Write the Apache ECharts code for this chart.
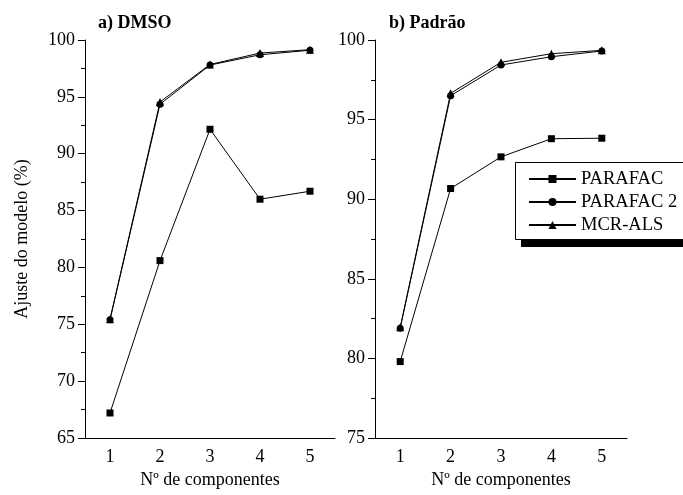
<!DOCTYPE html>
<html>
<head>
<meta charset="utf-8">
<script src="https://cdn.jsdelivr.net/npm/echarts@6/dist/echarts.min.js"></script>
<style>
  html, body { margin: 0; padding: 0; background: #fff; }
  #chart { width: 683px; height: 495px; }
</style>
</head>
<body>
<div id="chart"></div>
<script>
const components = ['1', '2', '3', '4', '5']

// a) DMSO
const dmsoParafac = [67.2, 80.6, 92.15, 86.0, 86.7]
const dmsoParafac2 = [75.4, 94.35, 97.8, 98.7, 99.1]
const dmsoMcr = [75.45, 94.55, 97.85, 98.85, 99.15]

// b) Padrão
const padraoParafac = [79.8, 90.67, 92.66, 93.8, 93.83]
const padraoParafac2 = [81.9, 96.5, 98.43, 98.95, 99.31]
const padraoMcr = [81.95, 96.65, 98.6, 99.14, 99.35]

const font = 'Liberation Serif'

const chart = echarts.init(document.getElementById('chart'))

const xAxisBase = {
  type: 'category',
  data: components,
  boundaryGap: true,
  name: 'Nº de componentes',
  nameLocation: 'middle',
  nameGap: 23,
  nameTextStyle: { fontFamily: font, fontSize: 18, color: '#000' },
  axisLine: { lineStyle: { color: '#000', width: 1 } },
  axisTick: { alignWithLabel: true, length: 7, lineStyle: { color: '#000' } },
  axisLabel: { fontFamily: font, fontSize: 18, color: '#000', margin: 10 },
  splitLine: { show: false }
}

const yAxisBase = {
  type: 'value',
  interval: 5,
  axisLine: { show: true, lineStyle: { color: '#000', width: 1 } },
  axisTick: { show: true, length: 7, lineStyle: { color: '#000' } },
  minorTick: { show: true, splitNumber: 2, length: 4, lineStyle: { color: '#000' } },
  axisLabel: { fontFamily: font, fontSize: 18, color: '#000', margin: 10 },
  splitLine: { show: false }
}

const lineSeries = (name, data, symbol, size, idx) => ({
  name,
  type: 'line',
  data,
  xAxisIndex: idx,
  yAxisIndex: idx,
  symbol,
  symbolSize: size,
  lineStyle: { color: '#000', width: 1 },
  itemStyle: { color: '#000' },
  animation: false
})

const option = {
  backgroundColor: '#fff',
  animation: false,
  title: [
    { text: 'a) DMSO', left: 93, top: 9, textStyle: { fontFamily: font, fontSize: 18, fontWeight: 'bold', color: '#000' } },
    { text: 'b) Padrão', left: 384, top: 9, textStyle: { fontFamily: font, fontSize: 18, fontWeight: 'bold', color: '#000' } }
  ],
  graphic: [
    // legend frame with solid drop shadow
    { type: 'rect', z: 90, shape: { x: 521, y: 240, width: 200, height: 7 }, style: { fill: '#000' } },
    { type: 'rect', z: 91, shape: { x: 515.5, y: 162.5, width: 200, height: 77 }, style: { fill: '#fff', stroke: '#000', lineWidth: 1 } }
  ],
  legend: {
    orient: 'vertical',
    left: 528,
    top: 169,
    z: 100,
    data: ['PARAFAC', 'PARAFAC 2', 'MCR-ALS'],
    itemWidth: 47,
    itemHeight: 10,
    itemGap: 3,
    padding: 0,
    textStyle: { fontFamily: font, fontSize: 18.5, color: '#000', lineHeight: 20 }
  },
  grid: [
    { left: 85, top: 40, width: 250, height: 398 },
    { left: 375, top: 40, width: 252, height: 398 }
  ],
  xAxis: [
    Object.assign({}, xAxisBase, { gridIndex: 0 }),
    Object.assign({}, xAxisBase, { gridIndex: 1 })
  ],
  yAxis: [
    Object.assign({}, yAxisBase, {
      gridIndex: 0, min: 65, max: 100,
      name: 'Ajuste do modelo (%)',
      nameLocation: 'middle',
      nameGap: 54,
      nameTextStyle: { fontFamily: font, fontSize: 18, color: '#000' }
    }),
    Object.assign({}, yAxisBase, { gridIndex: 1, min: 75, max: 100 })
  ],
  series: [
    lineSeries('PARAFAC', dmsoParafac, 'rect', 7, 0),
    lineSeries('PARAFAC 2', dmsoParafac2, 'circle', 7, 0),
    lineSeries('MCR-ALS', dmsoMcr, 'triangle', 8, 0),
    lineSeries('PARAFAC', padraoParafac, 'rect', 7, 1),
    lineSeries('PARAFAC 2', padraoParafac2, 'circle', 7, 1),
    lineSeries('MCR-ALS', padraoMcr, 'triangle', 8, 1)
  ]
}

chart.setOption(option)
</script>
</body>
</html>
